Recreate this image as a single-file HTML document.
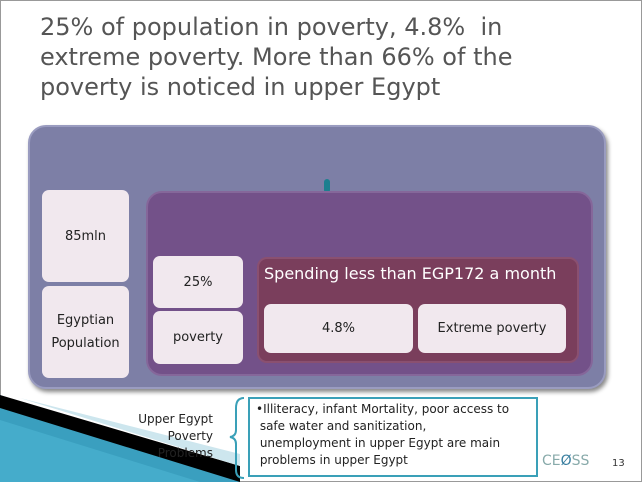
<!DOCTYPE html>
<html><head><style>
body{margin:0;width:642px;height:482px;overflow:hidden;background:#fff;font-family:"DejaVu Sans","Liberation Sans",sans-serif;position:relative}
div{position:absolute;box-sizing:border-box}
.w{background:#f1e8ee;border-radius:7px;display:flex;align-items:center;justify-content:center;text-align:center;font-size:13px;color:#222;line-height:23px}
</style></head><body>
<div style="left:0;top:0;width:642px;height:482px;border:1px solid #999"></div>
<div style="left:40px;top:12px;width:600px;font-size:24px;line-height:30px;color:#555;white-space:nowrap">25% of population in poverty, 4.8%&nbsp; in<br>extreme poverty. More than 66% of the<br>poverty is noticed in upper Egypt</div>
<div style="left:28px;top:125px;width:578px;height:264px;background:#7d7fa6;border-radius:18px;border:2px solid #9a9cc0;box-shadow:2px 3px 4px #888"></div>
<div style="left:324px;top:179px;width:6px;height:14px;background:#1c7f8f;border-radius:3px"></div>
<div style="left:146px;top:191px;width:447px;height:185px;background:#735189;border-radius:16px;border:2px solid #85679a"></div>
<div class="w" style="left:42px;top:190px;width:87px;height:92px">85mln</div>
<div class="w" style="left:42px;top:286px;width:87px;height:92px">Egyptian<br>Population</div>
<div class="w" style="left:153px;top:256px;width:90px;height:52px">25%</div>
<div class="w" style="left:153px;top:311px;width:90px;height:53px">poverty</div>
<div style="left:257px;top:257px;width:322px;height:106px;background:#7a3e5c;border-radius:10px;border:2px solid #8a5070"></div>
<div style="left:264px;top:264px;font-size:16px;color:#fff;white-space:nowrap">Spending less than EGP172 a month</div>
<div class="w" style="left:264px;top:304px;width:149px;height:49px">4.8%</div>
<div class="w" style="left:418px;top:304px;width:148px;height:49px">Extreme poverty</div>
<svg style="position:absolute;left:0;top:0" width="642" height="482">
<polygon points="0,395 240,482 0,482" fill="#3a9fbf"/>
<polygon points="0,420 200,482 0,482" fill="#4ab2d0" opacity="0.7"/>
<polygon points="0,395 240,466 240,482 0,408" fill="#000"/>
<polygon points="20,398 240,454 240,466" fill="#cde6ee"/>
<path d="M244,398 Q236,398 236,408 L236,430 Q236,436 230,437 Q236,438 236,444 L236,470 Q236,478 244,478" fill="none" stroke="#3aa0b8" stroke-width="2"/>
</svg>
<div style="left:110px;top:411px;width:103px;text-align:right;font-size:12px;line-height:17px;color:#222">Upper Egypt<br>Poverty<br>Problems</div>
<div style="left:248px;top:397px;width:290px;height:80px;border:2px solid #3aa0b8;background:#fff;font-size:12px;line-height:17px;color:#222;padding:2px 6px 0 6px">•Illiteracy, infant Mortality, poor access to<br>&nbsp;safe water and sanitization,<br>&nbsp;unemployment in upper Egypt are main<br>&nbsp;problems in upper Egypt</div>
<div style="left:542px;top:453px;font-size:14px;color:#8aa">CE<span style="color:#3a7fa0">Ø</span>SS</div>
<div style="left:612px;top:458px;font-size:10px;color:#333">13</div>
</body></html>
